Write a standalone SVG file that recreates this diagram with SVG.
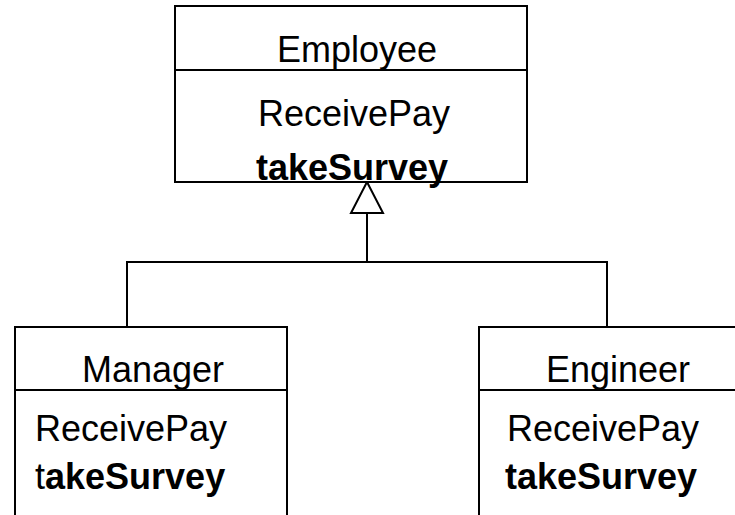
<svg xmlns="http://www.w3.org/2000/svg" width="735" height="515" viewBox="0 0 735 515">
  <style>
    .box { fill: #ffffff; stroke: #000000; stroke-width: 2; }
    .rule { stroke: #000000; stroke-width: 2; fill: none; }
    .conn { stroke: #000000; stroke-width: 2; fill: none; }
    .head { fill: #ffffff; stroke: #000000; stroke-width: 2; stroke-linejoin: miter; }
    text { font-family: "Liberation Sans", Arial, Helvetica, sans-serif; font-size: 36px; fill: #000000; }
    .b { font-weight: bold; }
    .mid { text-anchor: middle; }
  </style>
  <rect width="735" height="515" fill="#ffffff"/>

  <!-- inheritance connectors -->
  <g id="connectors">
    <polyline class="conn" points="127,327 127,262 607,262 607,327"/>
    <line class="conn" x1="367" y1="262" x2="367" y2="213"/>
    <polygon class="head" points="367,182 351,213 383,213"/>
  </g>

  <g id="employee">
    <rect class="box" x="175" y="6" width="352" height="176"/>
    <line class="rule" x1="175" y1="70" x2="527" y2="70"/>
    <text class="mid" x="357" y="62">Employee</text>
    <text class="mid" x="354" y="126">ReceivePay</text>
    <text class="mid b" x="352" y="180">takeSurvey</text>
  </g>

  <g id="manager">
    <rect class="box" x="15" y="327" width="272" height="200"/>
    <line class="rule" x1="15" y1="390" x2="287" y2="390"/>
    <text class="mid" x="153" y="382">Manager</text>
    <text x="35" y="441">ReceivePay</text>
    <text x="35" y="489">t<tspan class="b">akeSurvey</tspan></text>
  </g>

  <g id="engineer">
    <rect class="box" x="479" y="327" width="270" height="200"/>
    <line class="rule" x1="479" y1="390" x2="749" y2="390"/>
    <text class="mid" x="618" y="382">Engineer</text>
    <text x="507" y="441">ReceivePay</text>
    <text class="b" x="505" y="489">takeSurvey</text>
  </g>
</svg>
